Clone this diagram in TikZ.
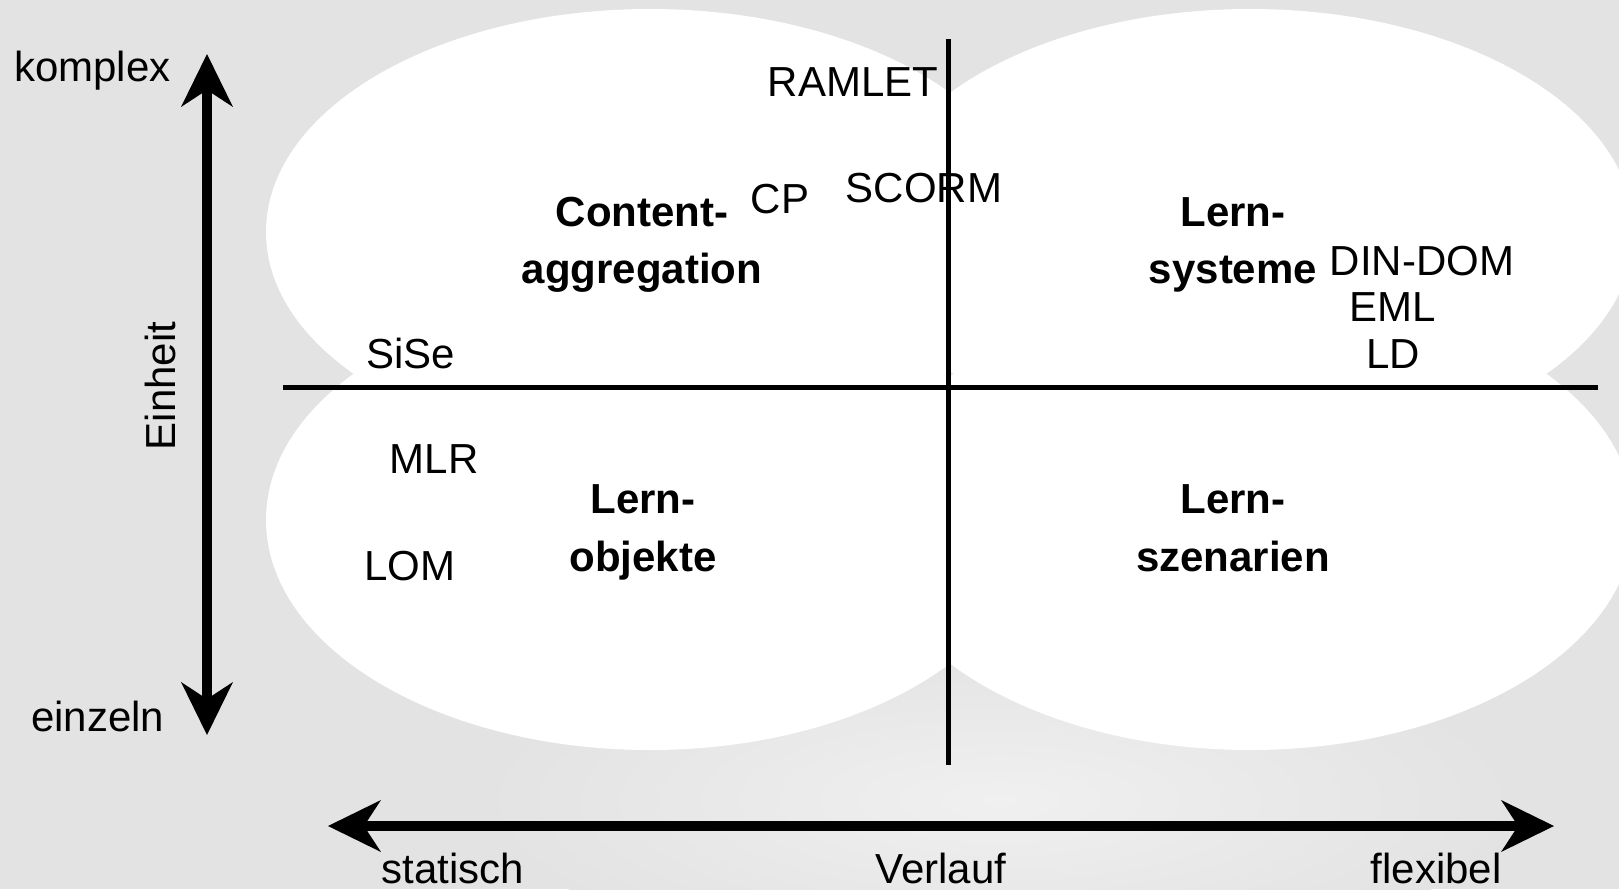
\documentclass[tikz,border=0pt]{standalone}
\usepackage{fontspec}
\setmainfont{Liberation Sans}
\usetikzlibrary{arrows.meta}
\definecolor{bg}{HTML}{E3E3E3}
\definecolor{bglight}{HTML}{F0F0F0}
\begin{document}
\begin{tikzpicture}[x=1pt,y=-1pt,
  lbl/.style={inner sep=0pt, anchor=base, font=\fontsize{42}{50}\selectfont},
  blbl/.style={inner sep=0pt, anchor=base, font=\fontsize{42}{50}\selectfont\bfseries},
  axisarrow/.style={line width=10pt, {Stealth[length=53pt,width=52pt,inset=17pt,line width=0pt]}-{Stealth[length=53pt,width=52pt,inset=17pt,line width=0pt]}},
  divider/.style={line width=5pt},
  blob/.style={fill=white, draw=none}]
% background
\fill[bg] (0,0) rectangle (1619,889);
\useasboundingbox (0,0) rectangle (1619,889);
\shade[inner color=bglight, outer color=bg, draw=none] (1000,800) ellipse [x radius=520, y radius=160];
% four white ellipses
\fill[blob] (650,232) ellipse [x radius=384, y radius=223];
\fill[blob] (1250,232) ellipse [x radius=384, y radius=223];
\fill[blob] (650,520) ellipse [x radius=384, y radius=230];
\fill[blob] (1250,520) ellipse [x radius=384, y radius=230];
% dividers
\coordinate (vtop) at (948,39);
\coordinate (vbot) at (948,765);
\coordinate (hleft) at (283,387);
\coordinate (hright) at (1598,387);
\draw[divider] (vtop) -- (vbot);
\draw[divider] (hleft) -- (hright);
% axes
\coordinate (ytop) at (207,54);
\coordinate (ybot) at (207,735);
\coordinate (xleft) at (328,826);
\coordinate (xright) at (1554,826);
\draw[axisarrow] (ybot) -- (ytop);
\draw[axisarrow] (xleft) -- (xright);
% axis labels
\node[lbl, anchor=base west] (komplex) at (14,81) {komplex};
\node[lbl, anchor=base west] (einzeln) at (31,731) {einzeln};
\node[lbl, rotate=90] (einheit) at (175,386) {Einheit};
\node[lbl] (statisch) at (453,883) {statisch};
\node[lbl] (verlauf) at (941,883) {Verlauf};
\node[lbl] (flexibel) at (1436,883) {flexibel};
% standards
\node[lbl] (ramlet) at (853,96) {RAMLET};
\node[lbl] (cp) at (780,213) {CP};
\node[lbl] (scorm) at (924,202) {SCORM};
\node[lbl] (dindom) at (1422,275) {DIN-DOM};
\node[lbl] (eml) at (1393,321) {EML};
\node[lbl] (ld) at (1393,368) {LD};
\node[lbl] (sise) at (411,368) {SiSe};
\node[lbl] (mlr) at (434,473) {MLR};
\node[lbl] (lom) at (410,580) {LOM};
% quadrant titles
\node[blbl] (ca1) at (642,226) {Content-};
\node[blbl] (ca2) at (642,283) {aggregation};
\node[blbl] (ls1) at (1233,226) {Lern-};
\node[blbl] (ls2) at (1233,283) {systeme};
\node[blbl] (lo1) at (643,513) {Lern-};
\node[blbl] (lo2) at (643,571) {objekte};
\node[blbl] (lz1) at (1233,513) {Lern-};
\node[blbl] (lz2) at (1233,571) {szenarien};
\end{tikzpicture}
\end{document}
